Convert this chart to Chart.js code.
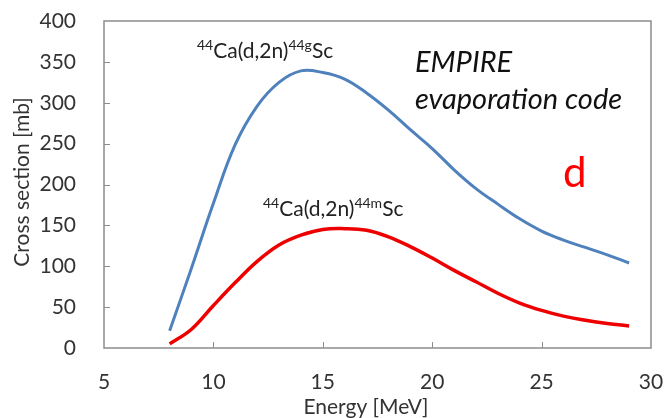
<!DOCTYPE html>
<html>
<head>
<meta charset="utf-8">
<script src="https://cdn.jsdelivr.net/npm/chart.js@4"></script>
<style>
  html, body { margin: 0; padding: 0; background: #fff; }
  #wrap { width: 665px; height: 418px; }
</style>
</head>
<body>
<div id="wrap"><canvas id="xsChart" width="665" height="418"></canvas></div>
<script>
// Energy grid [MeV] and EMPIRE cross sections [mb]
const energy = [8, 9, 10, 11, 12, 13, 14, 15, 16, 17, 18, 19, 20, 21, 22, 23, 24, 25, 26, 27, 28, 29];
const xsGround = [21, 98, 177, 249, 296, 325, 339, 337, 329, 312, 291, 267, 244, 218, 195, 176, 158, 143, 132, 123, 114, 104];
const xsMeta = [5, 23, 52, 80, 106, 126, 138, 145, 146, 144, 136, 124, 110, 95, 81, 67, 55, 46, 39, 34, 30, 27];

const xTicks = [5, 10, 15, 20, 25, 30];
const yTicks = [0, 50, 100, 150, 200, 250, 300, 350, 400];

const FONT = 'Lato, "Open Sans", sans-serif';
const AXIS_GREY = '#8c8c8c';

// text with superscripts: parts are [text, isSup]
function drawRich(ctx, x, y, parts, size) {
  ctx.textBaseline = 'alphabetic';
  ctx.textAlign = 'left';
  parts.forEach(([txt, sup]) => {
    const s = sup ? Math.round(size * 0.65) : size;
    ctx.font = s + 'px ' + FONT;
    ctx.fillText(txt, x, sup ? y - size * 0.38 : y);
    x += ctx.measureText(txt).width;
  });
}

// frame, inside ticks, axis titles and the notes on the plot
const decorations = {
  id: 'decorations',
  afterDraw(chart) {
    const { ctx, chartArea: a, scales } = chart;
    ctx.save();
    ctx.strokeStyle = AXIS_GREY;
    ctx.lineWidth = 1.5;
    ctx.strokeRect(a.left, a.top, a.right - a.left, a.bottom - a.top);

    ctx.lineWidth = 1;
    ctx.beginPath();
    xTicks.slice(1, -1).forEach(v => {
      const px = Math.round(scales.x.getPixelForValue(v)) + 0.5;
      ctx.moveTo(px, a.bottom);
      ctx.lineTo(px, a.bottom - 6);
    });
    yTicks.slice(1, -1).forEach(v => {
      const py = Math.round(scales.y.getPixelForValue(v)) + 0.5;
      ctx.moveTo(a.left, py);
      ctx.lineTo(a.left + 6, py);
    });
    ctx.stroke();

    ctx.fillStyle = '#333';
    ctx.font = '21px ' + FONT;
    ctx.textAlign = 'center';
    ctx.textBaseline = 'middle';
    ctx.fillText('Energy [MeV]', 366, 407);
    ctx.save();
    ctx.translate(22, 182);
    ctx.rotate(-Math.PI / 2);
    ctx.fillText('Cross section [mb]', 0, 0);
    ctx.restore();

    ctx.fillStyle = '#222';
    drawRich(ctx, 197, 58, [['44', true], ['Ca(d,2n)', false], ['44g', true], ['Sc', false]], 21);
    drawRich(ctx, 263, 216, [['44', true], ['Ca(d,2n)', false], ['44m', true], ['Sc', false]], 21);

    ctx.fillStyle = '#111';
    ctx.font = 'italic 29px ' + FONT;
    ctx.textAlign = 'left';
    ctx.textBaseline = 'alphabetic';
    ctx.fillText('EMPIRE', 415, 72);
    ctx.fillText('evaporation code', 415, 109);

    ctx.fillStyle = '#ff0000';
    ctx.font = '42px ' + FONT;
    ctx.fillText('d', 563, 187);
    ctx.restore();
  }
};

new Chart(document.getElementById('xsChart'), {
  type: 'line',
  data: {
    datasets: [
      {
        label: '44Ca(d,2n)44gSc',
        data: energy.map((e, i) => ({ x: e, y: xsGround[i] })),
        borderColor: '#4f81bd',
        borderWidth: 3,
        pointRadius: 0,
        tension: 0.4,
        fill: false
      },
      {
        label: '44Ca(d,2n)44mSc',
        data: energy.map((e, i) => ({ x: e, y: xsMeta[i] })),
        borderColor: '#ee0000',
        borderWidth: 3.5,
        pointRadius: 0,
        tension: 0.4,
        fill: false
      }
    ]
  },
  options: {
    responsive: false,
    animation: false,
    layout: { padding: { top: 21, right: 14, left: 0, bottom: 0 } },
    plugins: {
      legend: { display: false },
      tooltip: { enabled: false }
    },
    scales: {
      x: {
        type: 'linear',
        min: 5,
        max: 30,
        afterBuildTicks: s => { s.ticks = xTicks.map(v => ({ value: v })); },
        afterFit: s => { s.height = 70; s.paddingLeft = 0; s.paddingRight = 0; },
        grid: { display: false },
        border: { display: false },
        ticks: { color: '#333', padding: 14, maxRotation: 0, font: { family: FONT, size: 21 } }
      },
      y: {
        min: 0,
        max: 400,
        afterBuildTicks: s => { s.ticks = yTicks.map(v => ({ value: v })); },
        afterFit: s => { s.width = 104; s.paddingTop = 0; s.paddingBottom = 0; },
        grid: { display: false },
        border: { display: false },
        ticks: { color: '#333', padding: 20, font: { family: FONT, size: 21 } }
      }
    }
  },
  plugins: [decorations]
});
</script>
</body>
</html>
